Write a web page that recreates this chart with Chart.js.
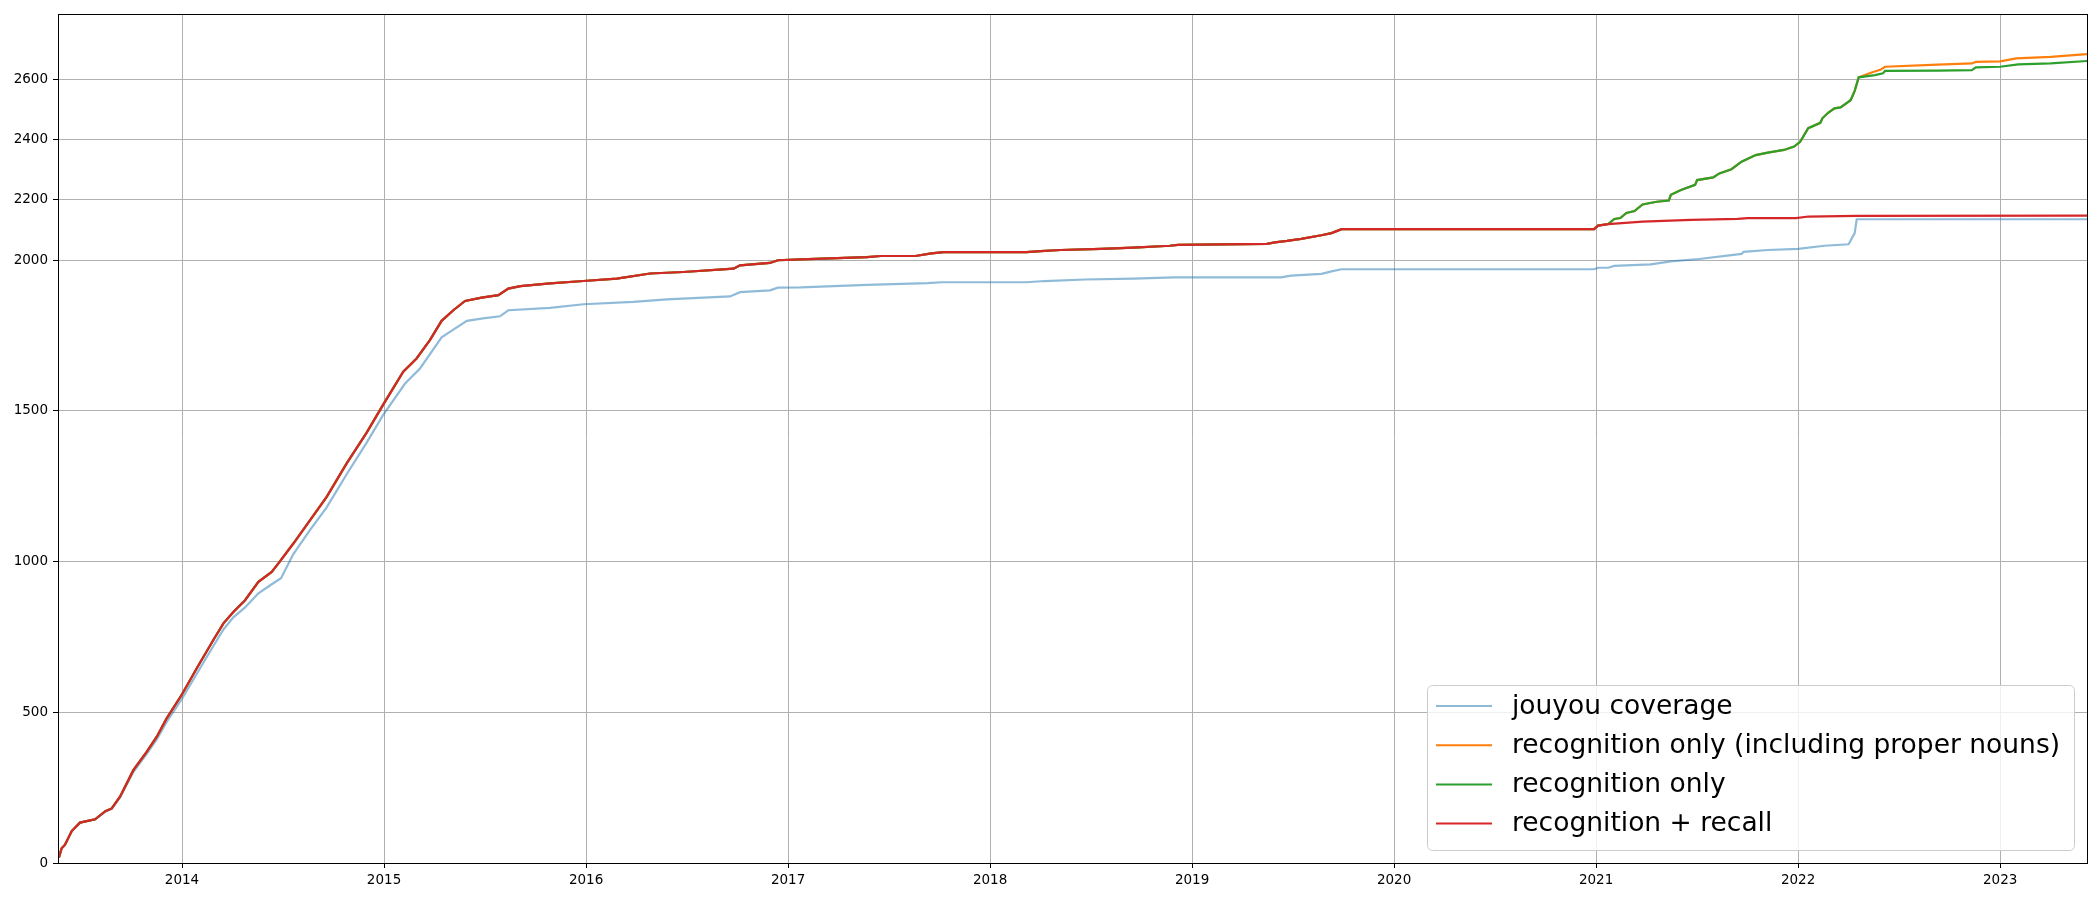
<!DOCTYPE html>
<html>
<head>
<meta charset="utf-8">
<title>Kanji coverage</title>
<script src="https://cdn.jsdelivr.net/npm/chart.js@4.4.1/dist/chart.umd.min.js"></script>
<style>
    html, body { margin: 0; padding: 0; background: #fff; }
    canvas { display: block; }
</style>
</head>
<body>
<canvas id="coverageChart" width="2100" height="900"></canvas>
<script>
// Path shared by all three "recognition" series up to early 2021 (decimal years)
const sharedYears = [
    2013.386, 2013.392, 2013.404, 2013.42, 2013.454, 2013.495, 2013.57, 2013.62, 2013.652, 2013.693,
    2013.759, 2013.825, 2013.875, 2013.924, 2014.0, 2014.073, 2014.155, 2014.205, 2014.254, 2014.312,
    2014.378, 2014.444, 2014.477, 2014.551, 2014.634, 2014.716, 2014.815, 2014.914, 2014.995, 2015.095,
    2015.161, 2015.227, 2015.285, 2015.343, 2015.401, 2015.483, 2015.566, 2015.615, 2015.675, 2015.822,
    2015.987, 2016.152, 2016.317, 2016.482, 2016.73, 2016.762, 2016.91, 2016.95, 2017.063, 2017.39,
    2017.46, 2017.63, 2017.71, 2017.77, 2018.18, 2018.25, 2018.35, 2018.55, 2018.71, 2018.89,
    2018.93, 2019.37, 2019.41, 2019.47, 2019.54, 2019.64, 2019.69, 2019.74, 2020.99, 2021.01, 2021.06
];
const sharedCounts = [
    18, 21, 49, 60, 106, 134, 145, 172, 181, 220,
    308, 369, 419, 480, 560, 646, 740, 795, 833, 872,
    933, 966, 994, 1060, 1138, 1215, 1326, 1428, 1520, 1630,
    1674, 1735, 1799, 1834, 1865, 1876, 1884, 1906, 1914, 1923,
    1931, 1939, 1956, 1961, 1972, 1983, 1991, 2000, 2003, 2010,
    2014, 2014, 2023, 2027, 2027, 2030, 2034, 2038, 2042, 2048,
    2051, 2054, 2059, 2064, 2071, 2083, 2090, 2103, 2103, 2115, 2120
];

// recognition only, after it leaves the shared path
const greenYears = [
    2021.09, 2021.12, 2021.15, 2021.19, 2021.23, 2021.3, 2021.36, 2021.37, 2021.42, 2021.49,
    2021.5, 2021.58, 2021.61, 2021.67, 2021.72, 2021.79, 2021.85, 2021.93, 2021.98, 2022.01,
    2022.05, 2022.11, 2022.12, 2022.15, 2022.18, 2022.21, 2022.26, 2022.28, 2022.3, 2022.38,
    2022.42, 2022.43, 2022.69, 2022.86, 2022.88, 2023.0, 2023.09, 2023.25, 2023.43
];
const greenCounts = [
    2137, 2140, 2157, 2163, 2185, 2194, 2198, 2217, 2233, 2250,
    2266, 2275, 2288, 2302, 2327, 2349, 2357, 2366, 2377, 2393,
    2438, 2456, 2471, 2490, 2504, 2507, 2531, 2562, 2607, 2614,
    2620, 2628, 2629, 2631, 2640, 2642, 2650, 2653, 2661
];

// recognition only (including proper nouns), after it splits from green
const orangeSplitYear = 2022.3;
const orangeYears = [2022.36, 2022.41, 2022.43, 2022.69, 2022.86, 2022.88, 2023.0, 2023.08, 2023.25, 2023.43];
const orangeCounts = [2622, 2633, 2642, 2649, 2653, 2658, 2660, 2670, 2675, 2684];

// recognition + recall, after 2021
const redYears = [2021.23, 2021.47, 2021.7, 2021.75, 2021.99, 2022.05, 2022.29, 2023.43];
const redCounts = [2128, 2134, 2137, 2140, 2140, 2145, 2147, 2148];

// jouyou coverage
const jouyouYears = [
    2013.386, 2013.392, 2013.404, 2013.42, 2013.454, 2013.495, 2013.57, 2013.62, 2013.652, 2013.693,
    2013.759, 2013.825, 2013.875, 2013.924, 2014.0, 2014.073, 2014.155, 2014.205, 2014.254, 2014.312,
    2014.378, 2014.444, 2014.49, 2014.551, 2014.634, 2014.716, 2014.815, 2014.914, 2014.995, 2015.104,
    2015.178, 2015.285, 2015.343, 2015.41, 2015.49, 2015.574, 2015.615, 2015.822, 2015.987, 2016.234,
    2016.4, 2016.713, 2016.762, 2016.91, 2016.95, 2017.063, 2017.39, 2017.69, 2017.76, 2018.18,
    2018.27, 2018.47, 2018.71, 2018.91, 2019.44, 2019.49, 2019.64, 2019.69, 2019.74, 2020.99,
    2021.01, 2021.06, 2021.09, 2021.27, 2021.37, 2021.51, 2021.72, 2021.73, 2021.85, 2022.0,
    2022.13, 2022.25, 2022.28, 2022.29, 2023.43
];
const jouyouCounts = [
    18, 21, 49, 60, 106, 134, 145, 170, 180, 218,
    302, 362, 410, 468, 545, 628, 720, 775, 815, 848,
    895, 925, 945, 1025, 1105, 1180, 1290, 1395, 1486, 1591,
    1641, 1744, 1770, 1799, 1807, 1814, 1834, 1842, 1854, 1862,
    1870, 1880, 1894, 1900, 1909, 1910, 1918, 1924, 1927, 1927,
    1931, 1936, 1939, 1943, 1943, 1949, 1955, 1963, 1970, 1970,
    1975, 1975, 1981, 1986, 1996, 2004, 2021, 2028, 2034, 2038,
    2048, 2053, 2090, 2136, 2136
];

const xTicks = [2014, 2015, 2016, 2017, 2018, 2019, 2020, 2021, 2022, 2023];
const yTicks = [0, 500, 1000, 1500, 2000, 2200, 2400, 2600];

const seriesLabels = [
    'jouyou coverage',
    'recognition only (including proper nouns)',
    'recognition only',
    'recognition + recall'
];

function toPoints(years, counts) {
    return years.map((y, i) => ({ x: y, y: counts[i] }));
}

const sharedPoints = toPoints(sharedYears, sharedCounts);
const greenPoints = sharedPoints.concat(toPoints(greenYears, greenCounts));
const orangePoints = sharedPoints
    .concat(toPoints(greenYears, greenCounts).filter(p => p.x <= orangeSplitYear))
    .concat(toPoints(orangeYears, orangeCounts));
const redPoints = sharedPoints.concat(toPoints(redYears, redCounts));
const jouyouPoints = toPoints(jouyouYears, jouyouCounts);

const FONT = 'DejaVu Sans';

// matplotlib-style frame round the plot area
const framePlugin = {
    id: 'frame',
    afterDatasetsDraw(chart) {
        const { ctx, chartArea: a } = chart;
        ctx.save();
        ctx.strokeStyle = '#000';
        ctx.lineWidth = 1;
        ctx.strokeRect(Math.round(a.left) + 0.5, Math.round(a.top) + 0.5,
            Math.round(a.right - a.left), Math.round(a.bottom - a.top));
        ctx.restore();
    }
};

// legend box inside the lower right corner
const boxLegendPlugin = {
    id: 'boxLegend',
    afterDraw(chart, args, opts) {
        const ctx = chart.ctx;
        const ds = chart.data.datasets;
        ctx.save();
        ctx.beginPath();
        ctx.roundRect(opts.x + 0.5, opts.y + 0.5, opts.width, opts.height, 5);
        ctx.fillStyle = 'rgba(255,255,255,0.8)';
        ctx.fill();
        ctx.strokeStyle = '#cccccc';
        ctx.lineWidth = 1;
        ctx.stroke();

        ctx.font = opts.fontSize + 'px "' + FONT + '"';
        ctx.textBaseline = 'middle';
        ctx.textAlign = 'left';
        ds.forEach((d, i) => {
            const cy = opts.firstRow + i * opts.rowGap;
            ctx.beginPath();
            ctx.moveTo(opts.handleX, cy);
            ctx.lineTo(opts.handleX + opts.handleLen, cy);
            ctx.strokeStyle = d.borderColor;
            ctx.lineWidth = 2;
            ctx.stroke();
            ctx.fillStyle = '#000';
            ctx.fillText(d.label, opts.textX, cy + 1);
        });
        ctx.restore();
    }
};

const ctx = document.getElementById('coverageChart').getContext('2d');

new Chart(ctx, {
    type: 'line',
    data: {
        datasets: [
            { label: seriesLabels[0], data: jouyouPoints, borderColor: 'rgba(31,119,180,0.5)', order: 4 },
            { label: seriesLabels[1], data: orangePoints, borderColor: '#ff7f0e', order: 3 },
            { label: seriesLabels[2], data: greenPoints, borderColor: '#2ca02c', order: 2 },
            { label: seriesLabels[3], data: redPoints, borderColor: '#d62728', order: 1 }
        ]
    },
    options: {
        responsive: false,
        animation: false,
        devicePixelRatio: 1,
        layout: {
            padding: { top: 14, right: 13, left: 0, bottom: 0 }
        },
        elements: {
            point: { radius: 0 },
            line: { borderWidth: 2.2, tension: 0, borderCapStyle: 'butt' }
        },
        plugins: {
            legend: { display: false },
            tooltip: { enabled: false },
            boxLegend: {
                x: 1427, y: 685, width: 647, height: 165,
                firstRow: 706, rowGap: 39.2,
                handleX: 1436, handleLen: 56, textX: 1512,
                fontSize: 26.5
            }
        },
        scales: {
            x: {
                type: 'linear',
                min: 2013.386,
                max: 2023.43,
                afterBuildTicks: scale => { scale.ticks = xTicks.map(v => ({ value: v })); },
                afterFit: scale => { scale.height = 37; },
                grid: { color: '#b0b0b0', lineWidth: 1, tickColor: '#000', tickLength: 5 },
                border: { display: true, color: '#000', width: 1 },
                ticks: {
                    color: '#000',
                    padding: 4,
                    maxRotation: 0,
                    font: { family: FONT, size: 13.5 },
                    callback: v => String(v)
                }
            },
            y: {
                type: 'linear',
                min: 0,
                max: 2817,
                afterBuildTicks: scale => { scale.ticks = yTicks.map(v => ({ value: v })); },
                afterFit: scale => { scale.width = 58; },
                grid: { color: '#b0b0b0', lineWidth: 1, tickColor: '#000', tickLength: 5 },
                border: { display: true, color: '#000', width: 1 },
                ticks: {
                    color: '#000',
                    padding: 5,
                    font: { family: FONT, size: 13.5 },
                    callback: v => String(v)
                }
            }
        }
    },
    plugins: [framePlugin, boxLegendPlugin]
});
</script>
</body>
</html>
